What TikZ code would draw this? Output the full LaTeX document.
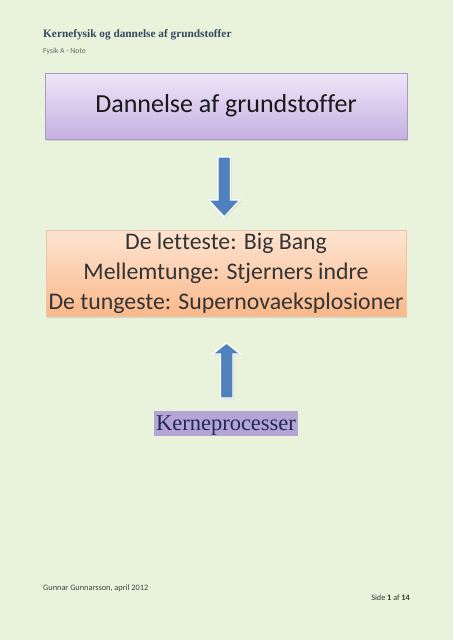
\documentclass[tikz,border=0pt]{standalone}
\usepackage{fontspec}
\setmainfont{Liberation Serif}
\newfontfamily\calib[Ligatures={NoCommon,NoContextual},RawFeature={-liga;-clig;-calt}]{Carlito}
\usetikzlibrary{shadows}
\definecolor{bgc}{HTML}{E9F3DB}
\definecolor{headc}{HTML}{33485F}
\definecolor{pTop}{HTML}{EEE6F8}
\definecolor{pBot}{HTML}{C5B1E2}
\definecolor{pBrd}{HTML}{A89AC2}
\definecolor{oTop}{HTML}{FDE5D2}
\definecolor{oBot}{HTML}{F9B88A}
\definecolor{oBrd}{HTML}{EEC4A4}
\definecolor{arrc}{HTML}{4F81BD}
\definecolor{hlc}{HTML}{B4A5D4}
\definecolor{kpc}{HTML}{1F2A55}
\definecolor{txc}{HTML}{333333}
\tikzset{
  boxbase/.style={draw, line width=0.6pt, drop shadow={shadow xshift=1pt, shadow yshift=-1.5pt, opacity=0.25}},
  blockarrow/.style={fill=arrc, draw=white, line width=1.4pt, drop shadow={shadow xshift=1pt, shadow yshift=-1pt, opacity=0.3}},
}
\begin{document}
\begin{tikzpicture}[x=1pt,y=-1pt]
\fill[bgc] (0,0) rectangle (453,640);
\useasboundingbox (0,0) rectangle (453,640);
% header
\node[anchor=base west, inner sep=0pt, text=headc, font=\bfseries\fontsize{11.3}{13}\selectfont] (head) at (43,37) {Kernefysik og dannelse af grundstoffer};
\node[anchor=base west, inner sep=0pt, text=gray!80!black, font=\calib\fontsize{7.7}{9}\selectfont] (sub) at (43,53) {Fysik A - Note};
% box 1
\path[boxbase, draw=pBrd, top color=pTop, bottom color=pBot] (45,73) rectangle (407,139);
\node[inner sep=0pt, font=\calib\fontsize{26}{30}\selectfont, text=black!90] (title) at (226,106) {Dannelse af grundstof\kern0ptfer};
% down arrow
\filldraw[blockarrow] (218,157) -- (230.5,157) -- (230.5,200) -- (240,200) -- (224.3,217) -- (208.6,200) -- (218,200) -- cycle;
% box 2
\path[boxbase, draw=oBrd, top color=oTop, bottom color=oBot] (46,230) rectangle (406,316);
\node[inner sep=0pt, align=center, font=\calib\fontsize{23.8}{30}\selectfont, text=txc] (mid) at (226,273) {De let\kern0ptteste: Big Bang\\Mellemtunge: Stjerners indre\\De tungeste: Supernovaeksplosioner};
% up arrow
\filldraw[blockarrow] (220.5,398) -- (233,398) -- (233,354) -- (240.5,354) -- (226.5,343) -- (212.5,354) -- (220.5,354) -- cycle;
% Kerneprocesser
\fill[hlc] (154,411) rectangle (298,436);
\node[inner sep=0pt, anchor=base, font=\fontsize{22.5}{26}\selectfont, text=kpc] (kp) at (226,430) {Kerneprocesser};
% footer
\node[anchor=base west, inner sep=0pt, text=black!75, font=\calib\fontsize{8.3}{10}\selectfont] (foot) at (43,590.5) {Gunnar Gunnarsson, april 2012};
\node[anchor=base east, inner sep=0pt, text=black!80, font=\calib\fontsize{8.2}{10}\selectfont] (page) at (410,600.5) {Side \textbf{1} af \textbf{14}};
\end{tikzpicture}
\end{document}
